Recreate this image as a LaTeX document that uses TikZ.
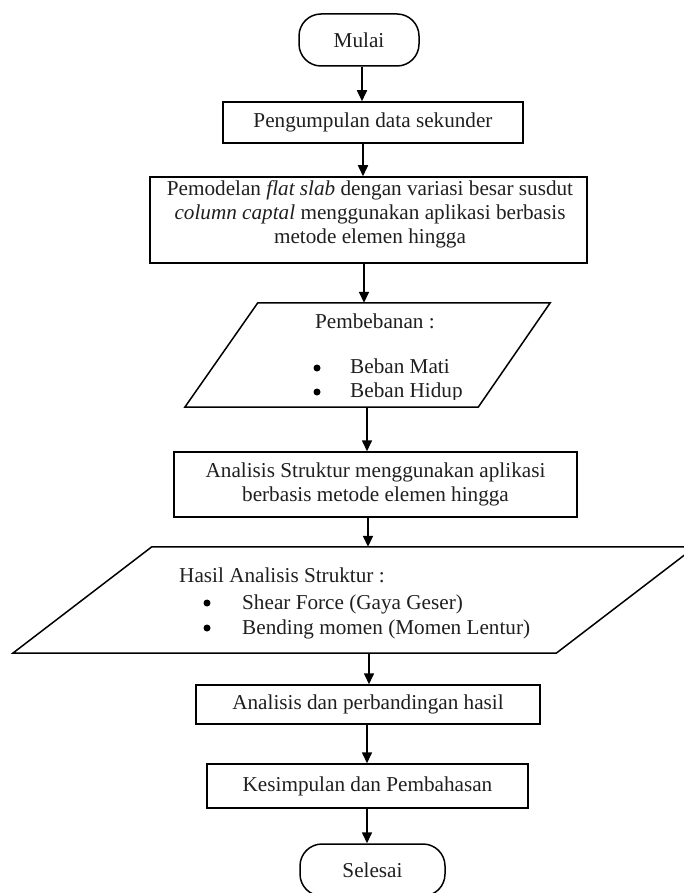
\documentclass[tikz,border=0pt]{standalone}
\usepackage{fontspec}
\setmainfont{Liberation Serif}
\usetikzlibrary{arrows.meta,calc}
\begin{document}
\begin{tikzpicture}[x=1pt,y=-1pt,
  every node/.style={font=\fontsize{21.2}{24}\selectfont, inner sep=0pt, text=black!88},
  proc/.style={draw=black, line width=1.5pt, align=center},
  term/.style={draw=black, line width=1.5pt, rounded corners=22pt},
  ghost/.style={draw=none},
  dot/.style={circle, fill=black, draw=none, minimum size=7pt},
  arr/.style={line width=1.6pt, -{Triangle[length=11pt,width=10pt]}},
  outline/.style={line width=1.5pt, line join=miter}
]
\useasboundingbox (0,0) rectangle (683,893);

% terminators and process boxes
\node[term, minimum width=120pt, minimum height=52pt] (mulai) at (359,40) {Mulai};
\node[proc, minimum width=300pt, minimum height=41pt] (box1) at (373,122.5) {Pengumpulan data sekunder};
\node[proc, minimum width=437pt, minimum height=86pt] (box2) at (368.5,220) {};
\node[align=center] (box2t) at (370,214.5) {Pemodelan \textit{flat slab} dengan variasi besar susdut\\\textit{column captal} menggunakan aplikasi berbasis\\metode elemen hingga};

% parallelogram 1
\node[ghost, minimum width=365pt, minimum height=104pt] (p1) at (367.5,355) {};
\draw[outline] ([xshift=73pt]p1.north west) -- (p1.north east) -- ([xshift=-72pt]p1.south east) -- (p1.south west) -- cycle;
\begin{scope}
\clip (150,290) rectangle (600,399);
\node[anchor=base west] (p1t) at (315,328) {Pembebanan :};
\node[dot] (p1d1) at (317,368) {};
\node[anchor=base west] (p1a) at (350,373) {Beban Mati};
\node[dot] (p1d2) at (317,392) {};
\node[anchor=base west] (p1b) at (350,397) {Beban Hidup};
\end{scope}

\node[proc, minimum width=403pt, minimum height=65pt] (box3) at (375.5,484.5) {Analisis Struktur menggunakan aplikasi\\berbasis metode elemen hingga};

% parallelogram 2
\node[ghost, minimum width=682pt, minimum height=106pt] (p2) at (354,600) {};
\draw[outline] ([xshift=139pt]p2.north west) -- (p2.north east) -- ([xshift=-139pt]p2.south east) -- (p2.south west) -- cycle;
\node[anchor=base west] (p2t) at (179,582) {Hasil Analisis Struktur :};
\node[dot] (p2d1) at (207,603) {};
\node[anchor=base west] (p2a) at (242,609) {Shear Force (Gaya Geser)};
\node[dot] (p2d2) at (207,628) {};
\node[anchor=base west] (p2b) at (242,634) {Bending momen (Momen Lentur)};

\node[proc, minimum width=344pt, minimum height=39pt] (box4) at (368,704.5) {Analisis dan perbandingan hasil};
\node[proc, minimum width=321pt, minimum height=44pt] (box5) at (367.5,786) {Kesimpulan dan Pembahasan};
\node[term, minimum width=145pt, minimum height=52pt] (selesai) at (372.5,870) {Selesai};

% connectors
\coordinate (a1) at ([xshift=3pt]mulai.south);
\draw[arr] (a1) -- (a1 |- box1.north);
\coordinate (a2) at ([xshift=-10pt]box1.south);
\draw[arr] (a2) -- (a2 |- box2.north);
\coordinate (a3) at ([xshift=-4.5pt]box2.south);
\draw[arr] (a3) -- (a3 |- p1.north);
\coordinate (a4) at ([xshift=-0.5pt]p1.south);
\draw[arr] (a4) -- (a4 |- box3.north);
\coordinate (a5) at ([xshift=-7.5pt]box3.south);
\draw[arr] (a5) -- (a5 |- p2.north);
\coordinate (a6) at ([xshift=15pt]p2.south);
\draw[arr] (a6) -- (a6 |- box4.north);
\coordinate (a7) at ([xshift=-1pt]box4.south);
\draw[arr] (a7) -- (a7 |- box5.north);
\coordinate (a8) at ([xshift=-0.5pt]box5.south);
\draw[arr] (a8) -- (a8 |- selesai.north);
\end{tikzpicture}
\end{document}
